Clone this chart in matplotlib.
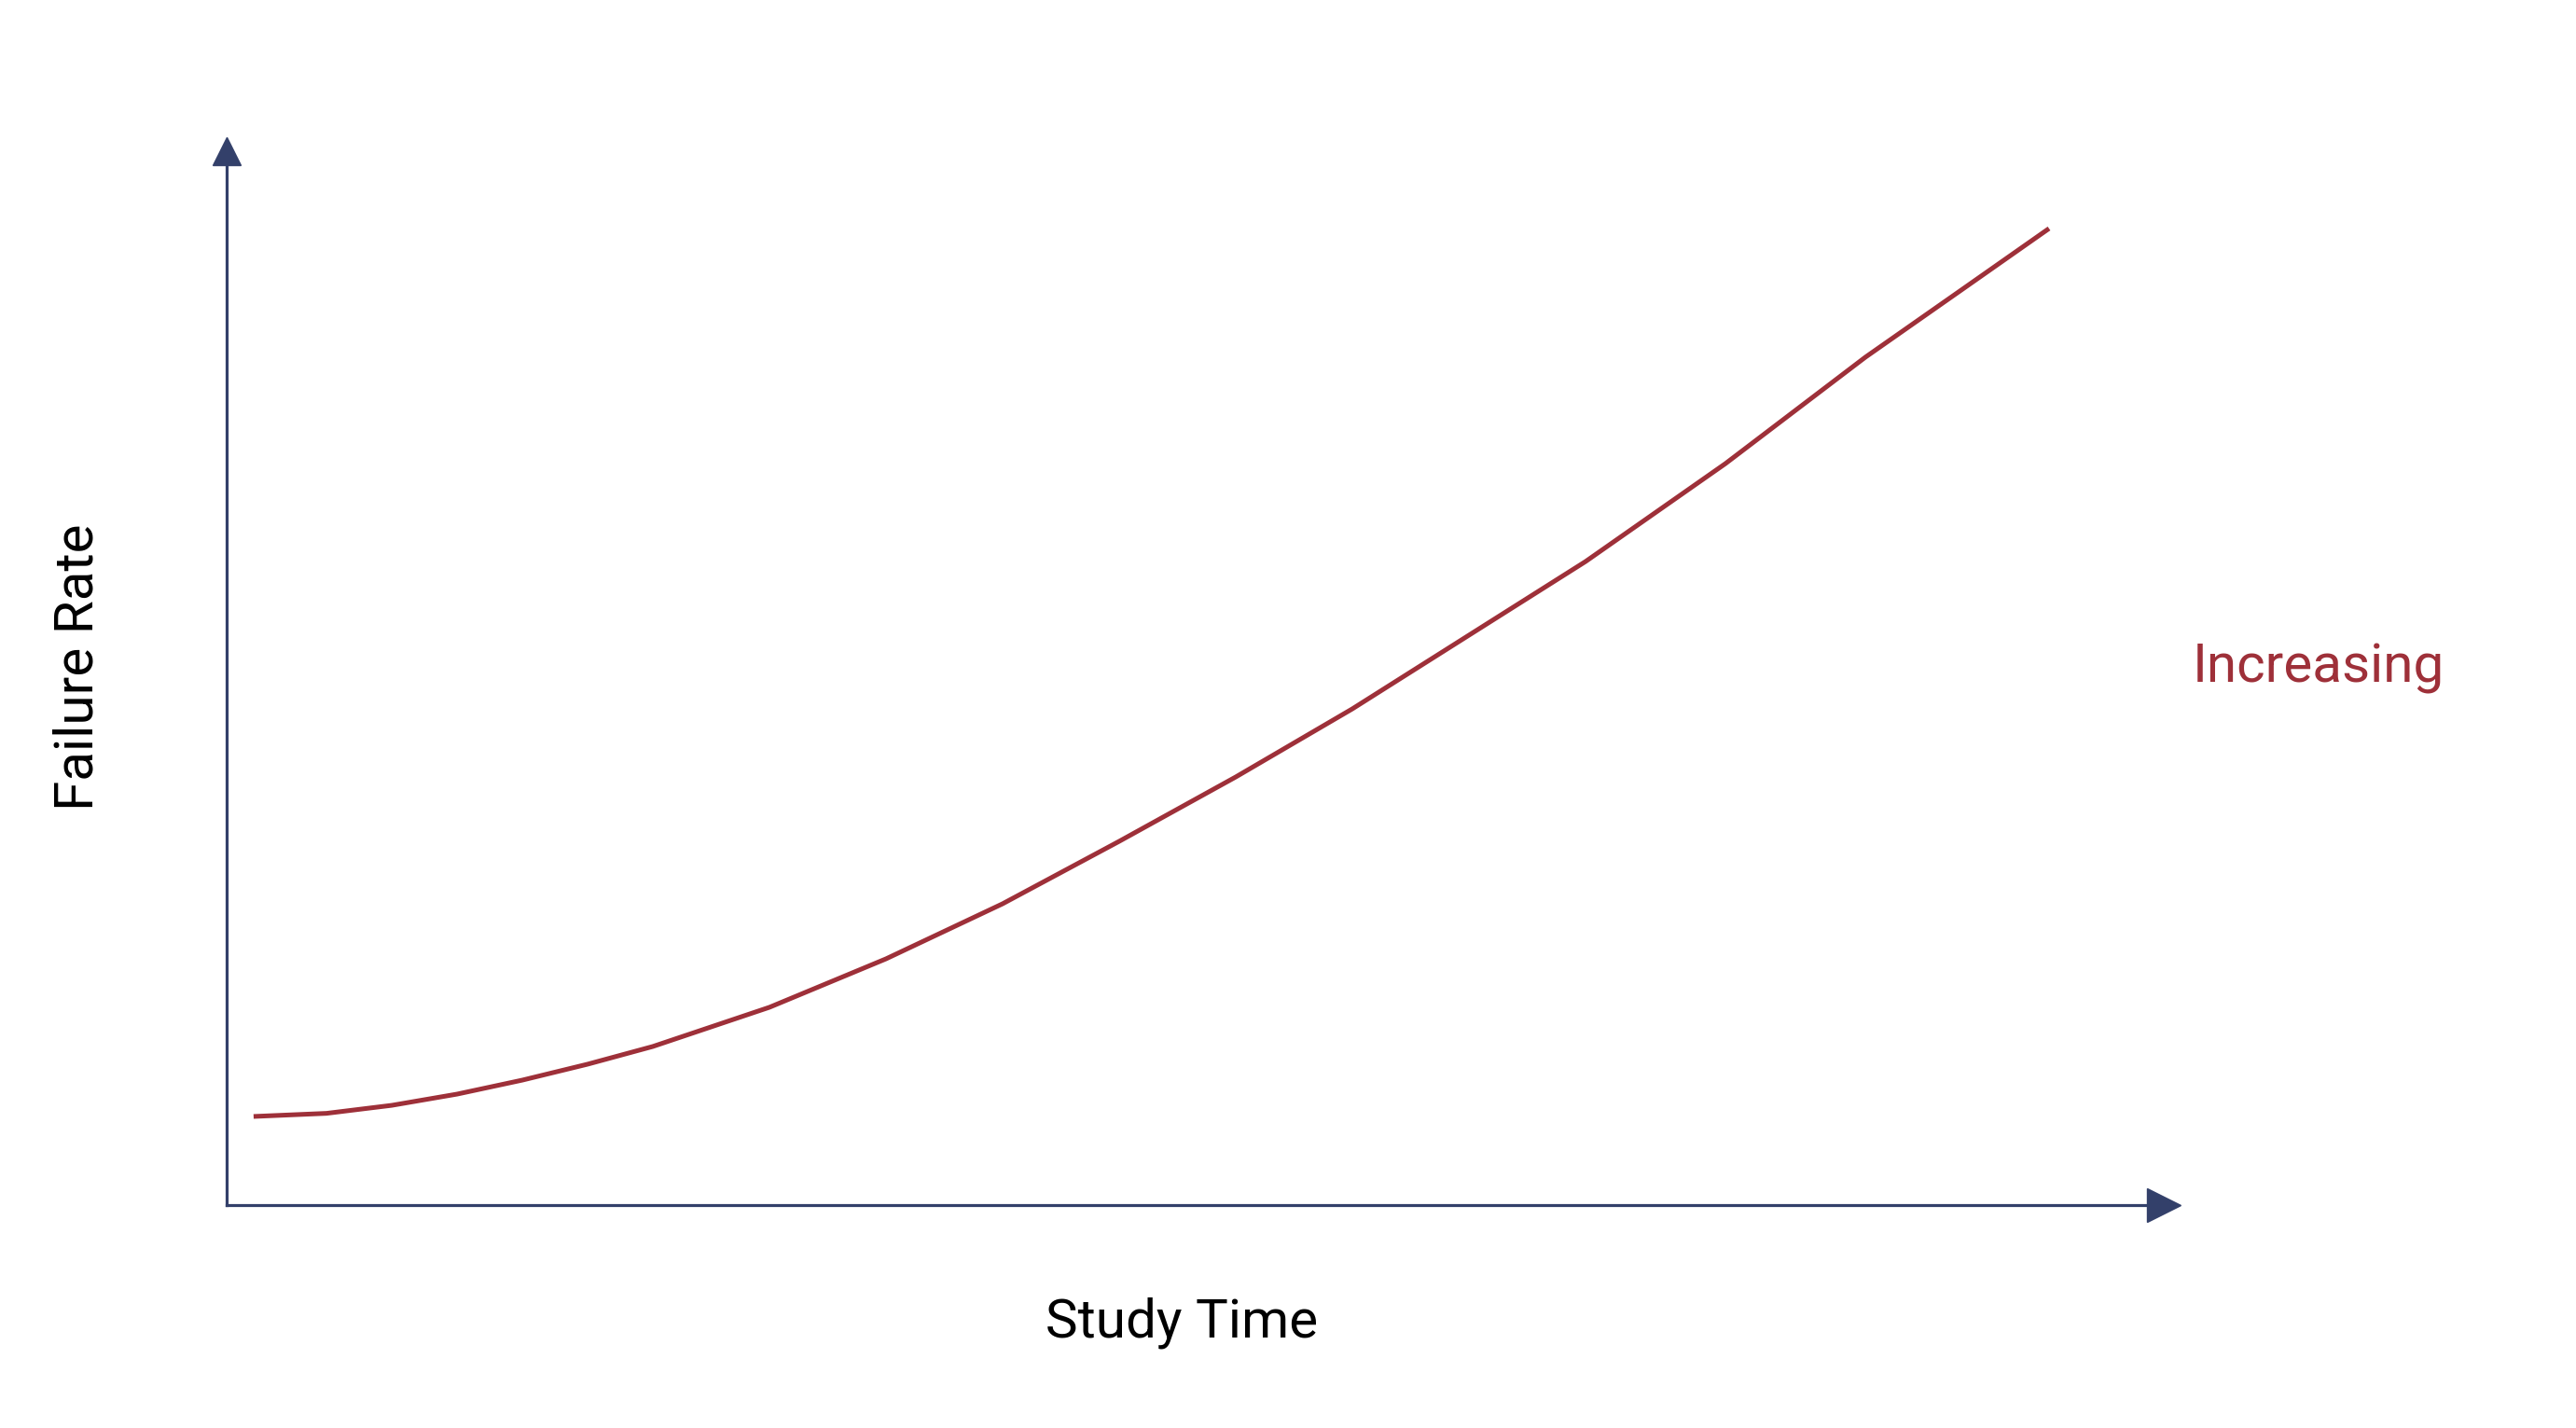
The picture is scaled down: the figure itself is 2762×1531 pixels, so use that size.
import matplotlib
matplotlib.use('Agg')
import matplotlib.pyplot as plt

# curve (arbitrary units, axes span 0-100 on both)
study_time = [1.38, 5.11, 8.45, 11.79, 15.13, 18.47, 21.81, 27.78, 33.75, 39.71,
              45.68, 51.65, 57.61, 63.58, 69.55, 76.71, 83.87, 88.64, 93.27]
failure_rate = [8.30, 8.59, 9.34, 10.39, 11.70, 13.19, 14.85, 18.52, 23.06, 28.21,
                34.06, 40.09, 46.46, 53.36, 60.26, 69.43, 79.39, 85.50, 91.44]

curve_label = 'Increasing'
x_label = 'Study Time'
y_label = 'Failure Rate'

AXIS_COLOR = '#33406A'
CURVE_COLOR = '#9E3039'


def plot_data(filepath):
    plt.rcParams['font.family'] = ['Roboto', 'DejaVu Sans']
    fig = plt.figure(figsize=(27.62, 15.31), dpi=100)
    ax = fig.add_axes([0.08798, 0.1561, 0.7585, 0.7479])
    ax.set_xlim(0, 100)
    ax.set_ylim(0, 100)
    ax.axis('off')

    # axis lines with arrow heads
    ax.plot([0, 0.9823], [0, 0], color=AXIS_COLOR, lw=2.3, transform=ax.transAxes, clip_on=False,
            solid_capstyle='projecting')
    ax.plot([0, 0], [0, 0.974], color=AXIS_COLOR, lw=2.3, transform=ax.transAxes, clip_on=False,
            solid_capstyle='projecting')
    ax.plot([0.9912], [0], marker='>', ms=26.6, color=AXIS_COLOR, transform=ax.transAxes, clip_on=False)
    ax.plot([0], [0.987], marker='^', ms=21.6, color=AXIS_COLOR, transform=ax.transAxes, clip_on=False)

    ax.plot(study_time, failure_rate, color=CURVE_COLOR, lw=3.6,
            solid_capstyle='butt', solid_joinstyle='round')

    fig.text(0.851, 0.5219, curve_label, color=CURVE_COLOR, fontsize=42, ha='left', va='baseline')
    fig.text(0.4589, 0.0634, x_label, color='black', fontsize=42, ha='center', va='baseline')
    fig.text(0.0305, 0.533, y_label, color='black', fontsize=42, ha='center', va='center', rotation=90)

    fig.savefig(filepath, dpi=100)


def main():
    plot_data('out.png')


if __name__ == "__main__":
    main()
